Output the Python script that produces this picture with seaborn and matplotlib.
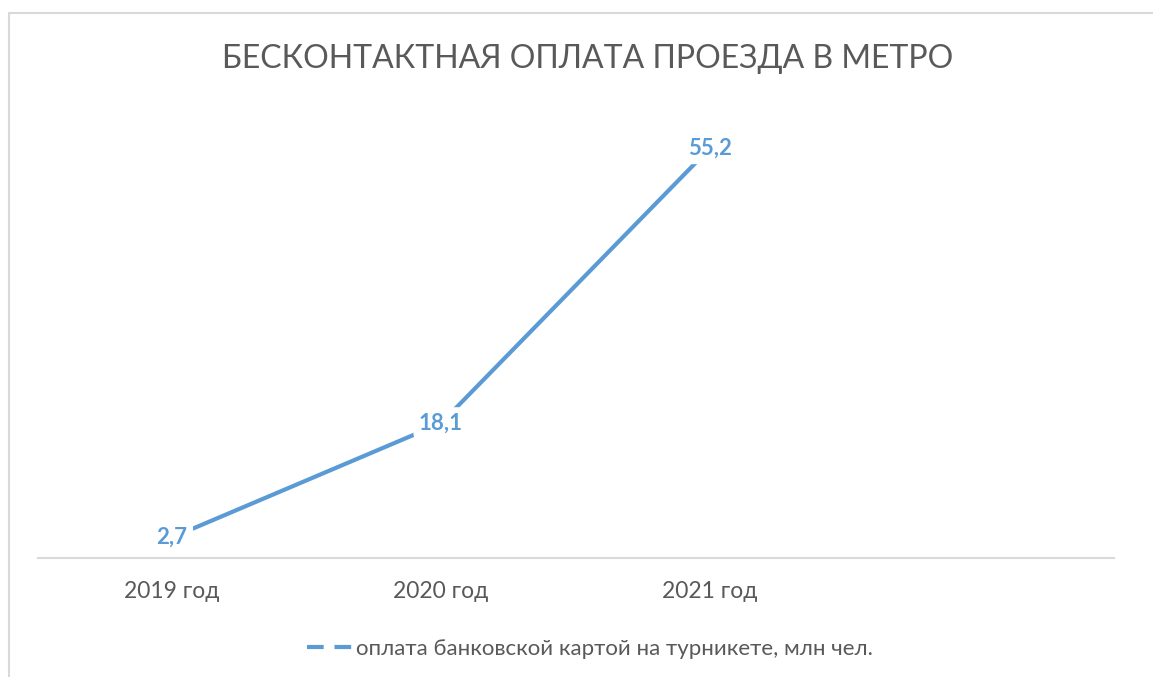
import matplotlib
matplotlib.use("Agg")
import matplotlib.pyplot as plt
from matplotlib.lines import Line2D
from matplotlib.patches import Rectangle
import seaborn as sns
import pandas as pd

categories = ["2019 год", "2020 год", "2021 год"]
values = [2.7, 18.1, 55.2]
labels = ["2,7", "18,1", "55,2"]
series_name = "оплата банковской картой на турникете, млн чел."
title = "БЕСКОНТАКТНАЯ ОПЛАТА ПРОЕЗДА В МЕТРО"

sns.set_theme(style="white")
plt.rcParams['font.family'] = ['Lato', 'Open Sans', 'DejaVu Sans']

BLUE = "#5B9BD5"
GRAY = "#595959"
W, H = 1153, 677
fig = plt.figure(figsize=(W / 100, H / 100), dpi=100)
ax = fig.add_axes([37.5 / W, 119.5 / H, 1076 / W, 445 / H])

df = pd.DataFrame({"pos": range(len(categories)), "value": values})
sns.lineplot(data=df, x="pos", y="value", ax=ax, color=BLUE, linewidth=3,
             legend=False, zorder=2)

for i, (v, lab) in enumerate(zip(values, labels)):
    ax.text(i, v, lab, ha="center", va="center", fontsize=16, fontweight="bold",
            color=BLUE, zorder=5, clip_on=False,
            bbox=dict(boxstyle="round,pad=0.25", fc="white", ec="none"))

ax.set_xlim(-0.5, 3.5)
ax.set_ylim(0, 60)
ax.set_xticks(range(len(categories)))
ax.set_xticklabels(categories, fontsize=16.5, color=GRAY)
ax.tick_params(axis="x", length=0, pad=17)
ax.set_yticks([])
ax.set_xlabel("")
ax.set_ylabel("")
for s in ["top", "right", "left"]:
    ax.spines[s].set_visible(False)
ax.spines["bottom"].set_color("#D9D9D9")
ax.spines["bottom"].set_linewidth(1.5)
ax.spines["bottom"].set_zorder(1)

fig.text(588 / W, 1 - 59 / H, title, ha="center", va="center",
         fontsize=23, color=GRAY)

handle = Line2D([0], [0], color=BLUE, linewidth=3, linestyle=(0, (4, 2.6)))
fig.legend([handle], [series_name], loc="center", bbox_to_anchor=(590 / W, 1 - 649 / H),
           frameon=False, fontsize=16, labelcolor=GRAY, handlelength=2.0,
           handletextpad=0.2)

fig.patches.append(Rectangle((9 / W, -0.1), 1.2, 1.1 - 13 / H,
                             transform=fig.transFigure, fill=False,
                             edgecolor="#D9D9D9", linewidth=1.5))

fig.savefig("out.png", dpi=100)
